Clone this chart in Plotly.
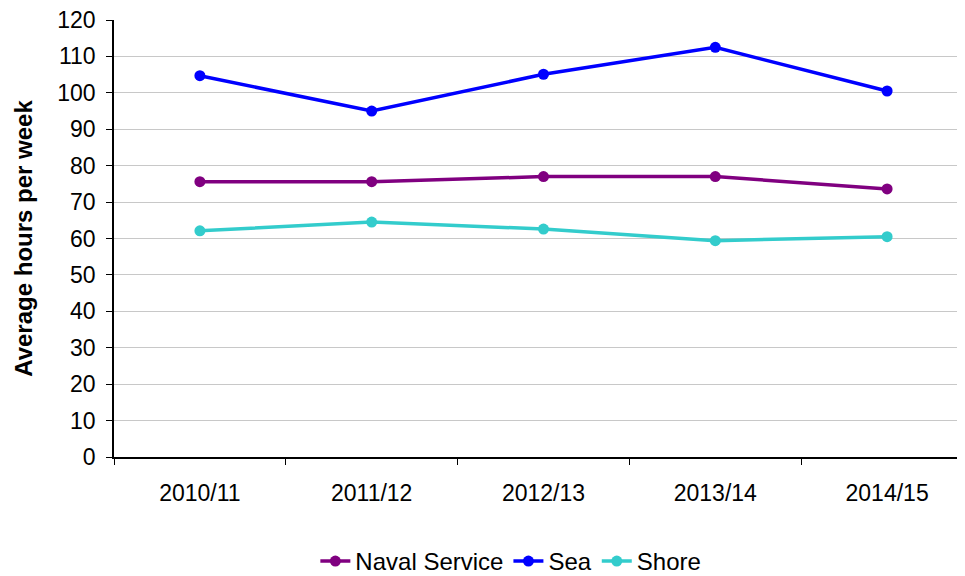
import plotly.graph_objects as go

years = ["2010/11", "2011/12", "2012/13", "2013/14", "2014/15"]
naval_service = [75.6, 75.6, 77.0, 77.0, 73.6]
sea = [104.7, 95.0, 105.1, 112.5, 100.5]
shore = [62.1, 64.5, 62.6, 59.4, 60.5]

series = [
    ("Naval Service", naval_service, "#800080"),
    ("Sea", sea, "#0000FF"),
    ("Shore", shore, "#33CCCC"),
]

fig = go.Figure()
for name, vals, color in series:
    fig.add_trace(go.Scatter(
        x=years, y=vals, name=name, mode="lines+markers",
        line=dict(color=color, width=3.5),
        marker=dict(color=color, size=11),
    ))

font_family = "Liberation Sans, Arial, sans-serif"
fig.update_layout(
    width=965, height=576,
    margin=dict(l=106, r=0, t=12, b=127),
    plot_bgcolor="white", paper_bgcolor="white",
    font=dict(family=font_family, color="black", size=23),
    showlegend=True,
    legend=dict(orientation="h", x=0.462, xanchor="center", y=-0.24, yanchor="middle",
                font=dict(size=24), traceorder="normal"),
    xaxis=dict(
        type="category", range=[-0.5, 4.5],
        showline=True, linecolor="black", linewidth=1.5,
        ticks="outside", ticklen=6, tickcolor="black", tickson="boundaries",
        showgrid=False, tickfont=dict(size=23), ticklabelstandoff=15,
    ),
    yaxis=dict(
        range=[0, 120], dtick=10,
        showline=True, linecolor="black", linewidth=1.5,
        ticks="outside", ticklen=6, tickcolor="black",
        showgrid=True, gridcolor="#C8C8C8", gridwidth=1,
        tickfont=dict(size=23), zeroline=False, ticklabelstandoff=6,
        ticklabeloverflow="allow",
        title=dict(text="<b>Average hours per week</b>", font=dict(size=24), standoff=18),
    ),
)

fig.write_html("out.html", config={"displayModeBar": False})
